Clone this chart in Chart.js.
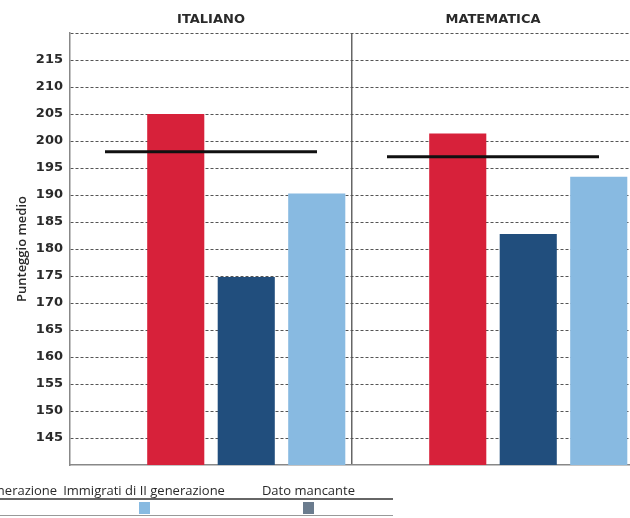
<!DOCTYPE html>
<html>
<head>
<meta charset="utf-8">
<script src="https://cdn.jsdelivr.net/npm/chart.js@4/dist/chart.umd.min.js"></script>
<style>
  html, body { margin: 0; padding: 0; background: #fff; overflow: hidden; }
  #wrap { position: relative; width: 630px; height: 518px; overflow: hidden; }
  #c { position: absolute; left: 0; top: 0; }
  #legend { position: absolute; top: 482px; right: 237px; border-collapse: separate; border-spacing: 0;
            font-family: "Open Sans", sans-serif; font-size: 13px; color: #2a2a2a; white-space: nowrap; }
  #legend td { padding: 0 3px; text-align: center; }
  #legend tr.lab td { line-height: 16px; height: 16px; border-bottom: 2px solid #666; }
  #legend tr.sw td { padding-top: 2px; padding-bottom: 1px; line-height: 0; border-bottom: 1.5px solid #999; }
  #legend td.last { padding-left: 34px; padding-right: 38px; }
  #legend .box { display: inline-block; width: 11px; height: 12px; }
</style>
</head>
<body>
<div id="wrap">
  <canvas id="c" width="634" height="518"></canvas>
  <table id="legend"><tr class="lab"></tr><tr class="sw"></tr></table>
</div>
<script>
// ---- data ----
const materie = ['ITALIANO', 'MATEMATICA'];
const serieNomi = ['Nativi', 'Immigrati di I generazione', 'Immigrati di II generazione', 'Dato mancante'];
const serieColori = ['#D7213A', '#214E7D', '#88BAE1', '#6B7C8E'];
const datoMancante = [null, null];
const nativi = [205.0, 201.4];
const immigratiI = [174.8, 182.8];
const immigratiII = [190.3, 193.4];
const mediaGenerale = [198.0, 197.1];
const yMin = 140, yMax = 220, yStep = 5;
const yTitolo = 'Punteggio medio';

const barSeries = [datoMancante, nativi, immigratiI, immigratiII];
const barNames = [serieNomi[3], serieNomi[0], serieNomi[1], serieNomi[2]];
const barColors = [serieColori[3], serieColori[0], serieColori[1], serieColori[2]];

const datasets = barSeries.map((d, i) => ({
  type: 'bar', label: barNames[i], data: d, backgroundColor: barColors[i],
  borderWidth: 0, categoryPercentage: 1.0, barPercentage: 0.81, order: 1
}));
// overall mean per subject: a horizontal line marker centred on each subject
datasets.push({
  type: 'line', label: 'Media', data: mediaGenerale, showLine: false, order: 0,
  pointStyle: 'line', pointRadius: 106, pointHoverRadius: 106,
  pointBorderColor: '#111', pointBackgroundColor: '#111', pointBorderWidth: 3, borderColor: '#111'
});

new Chart(document.getElementById('c'), {
  type: 'bar',
  data: { labels: materie, datasets },
  options: {
    responsive: false, animation: false,
    layout: { autoPadding: false, padding: { left: 0, right: 0, top: 0, bottom: 53 } },
    plugins: { legend: { display: false }, tooltip: { enabled: false } },
    scales: {
      x: {
        position: 'top', offset: true,
        grid: { offset: true, drawTicks: false, lineWidth: 1.5,
                color: c => c.index === 1 ? '#666' : 'rgba(0,0,0,0)' },
        border: { display: false },
        ticks: { color: '#2a2a2a', padding: 6, font: { family: 'DejaVu Sans', weight: 'bold', size: 13 } },
        afterFit: s => { s.height = 33; }
      },
      x2: {
        position: 'bottom', type: 'category', labels: materie,
        grid: { display: false, drawTicks: false },
        ticks: { display: false },
        border: { display: true, color: '#888', width: 1.5 },
        afterFit: s => { s.height = 0; }
      },
      y: {
        min: yMin, max: yMax, z: 1,
        grid: { drawTicks: false, lineWidth: 1,
                color: c => (c.tick && c.tick.value === yMin) ? 'rgba(0,0,0,0)' : '#555' },
        border: { display: true, color: '#888', width: 1.5, dash: [3, 2] },
        ticks: {
          stepSize: yStep, padding: 7, color: '#2a2a2a',
          font: { family: 'DejaVu Sans', weight: 'bold', size: 13 },
          callback: v => (v === yMin || v === yMax) ? '' : v
        },
        title: { display: true, text: yTitolo, color: '#2a2a2a', padding: { top: 14, bottom: 0 },
                 font: { family: 'Open Sans', size: 13, weight: 600 } },
        afterFit: s => { s.width = 70; }
      }
    }
  }
});

// HTML legend built from the series arrays
const lab = document.querySelector('#legend tr.lab');
const sw = document.querySelector('#legend tr.sw');
serieNomi.forEach((n, i) => {
  const t = document.createElement('td'); t.textContent = n;
  const s = document.createElement('td');
  const b = document.createElement('span'); b.className = 'box'; b.style.background = serieColori[i];
  s.appendChild(b);
  if (i === serieNomi.length - 1) { t.className = 'last'; s.className = 'last'; }
  lab.appendChild(t); sw.appendChild(s);
});
</script>
</body>
</html>
